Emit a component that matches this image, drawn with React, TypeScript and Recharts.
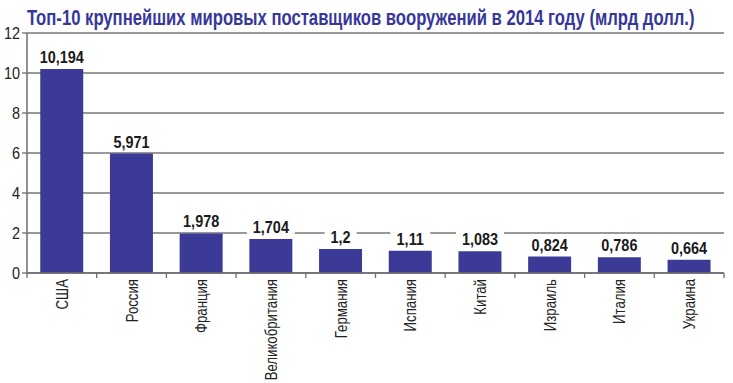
import { BarChart, Bar, XAxis, YAxis, CartesianGrid, LabelList } from 'recharts';

const title = 'Топ-10 крупнейших мировых поставщиков вооружений в 2014 году (млрд долл.)';
const countries = ['США', 'Россия', 'Франция', 'Великобритания', 'Германия', 'Испания', 'Китай', 'Израиль', 'Италия', 'Украина'];
const supplies = [10.194, 5.971, 1.978, 1.704, 1.2, 1.11, 1.083, 0.824, 0.786, 0.664];
const yTicks = [0, 2, 4, 6, 8, 10, 12];

const data = countries.map((country, i) => ({ country, value: supplies[i] }));

const FONT = '"Liberation Sans", Arial, sans-serif';
const BAR = '#3b3b97';
const AXIS = '#6e6e6e';
const TITLE_SIZE = 22;
const TITLE_WIDTH = 668;

function fmt(v: number) {
  return String(v).replace('.', ',');
}

// squeeze the title horizontally so it spans the same width as in the source
function titleScale() {
  const ctx = document.createElement('canvas').getContext('2d');
  if (!ctx) return 0.75;
  ctx.font = `bold ${TITLE_SIZE}px ${FONT}`;
  const w = ctx.measureText(title).width;
  return w > 0 ? TITLE_WIDTH / w : 0.75;
}

function YTick(props: any) {
  const { x, y, payload } = props;
  return (
    <g transform={`translate(${x},${y + 6}) scale(0.85,1)`}>
      <text x={0} y={0} textAnchor="end" fontSize={17} fill="#222" fontFamily={FONT}>
        {payload.value}
      </text>
    </g>
  );
}

function XTick(props: any) {
  const { x, y, payload, index } = props;
  const half = payload.offset || 34.85;
  return (
    <g>
      <line x1={x - half} x2={x - half} y1={y - 5} y2={y} stroke={AXIS} strokeWidth={1.3} />
      {index === countries.length - 1 && (
        <line x1={x + half} x2={x + half} y1={y - 5} y2={y} stroke={AXIS} strokeWidth={1.3} />
      )}
      <g transform={`translate(${x + 6},${y + 1}) rotate(-90) scale(0.8,1)`}>
        <text x={0} y={0} textAnchor="end" fontSize={16.5} fill="#222" fontFamily={FONT}>
          {payload.value}
        </text>
      </g>
    </g>
  );
}

function ValueLabel(props: any) {
  const { x, y, width, value } = props;
  const cx = x + width / 2;
  const label = fmt(value);
  const w = label.length * 8 + 8;
  return (
    <g>
      <rect x={cx - w / 2} y={y - 21} width={w} height={16} fill="#fff" />
      <g transform={`translate(${cx},${y - 6}) scale(0.85,1)`}>
        <text x={0} y={0} textAnchor="middle" fontSize={17} fontWeight="bold" fill="#1a1a1a" fontFamily={FONT}>
          {label}
        </text>
      </g>
    </g>
  );
}

export default function App() {
  const k = titleScale();
  return (
    <div style={{ position: 'absolute', left: 0, top: 0, width: 733, height: 383, background: '#fff' }}>
      <div style={{ position: 'absolute', left: 0, top: 0 }}>
        <BarChart width={733} height={383} data={data} margin={{ top: 33, right: 9, bottom: 0, left: 0 }} barCategoryGap="19%">
          <CartesianGrid vertical={false} stroke="#777" strokeWidth={1.3} />
          <XAxis
            dataKey="country"
            height={110}
            interval={0}
            tickLine={false}
            tickSize={5}
            tickMargin={0}
            axisLine={{ stroke: AXIS, strokeWidth: 1.5 }}
            tick={<XTick />}
          />
          <YAxis
            width={27}
            domain={[0, 12]}
            ticks={yTicks}
            interval={0}
            tickSize={5}
            tickMargin={2}
            tickLine={{ stroke: AXIS, strokeWidth: 1.3 }}
            axisLine={{ stroke: AXIS, strokeWidth: 1.5 }}
            tick={<YTick />}
          />
          <Bar dataKey="value" fill={BAR} isAnimationActive={false}>
            <LabelList dataKey="value" content={<ValueLabel />} />
          </Bar>
        </BarChart>
      </div>
      <svg width={733} height={40} style={{ position: 'absolute', left: 0, top: 0 }}>
        <g transform={`translate(27,25) scale(${k},1)`}>
          <text x={0} y={0} fontSize={TITLE_SIZE} fontWeight="bold" fill="#37379a" fontFamily={FONT}>
            {title}
          </text>
        </g>
      </svg>
    </div>
  );
}
